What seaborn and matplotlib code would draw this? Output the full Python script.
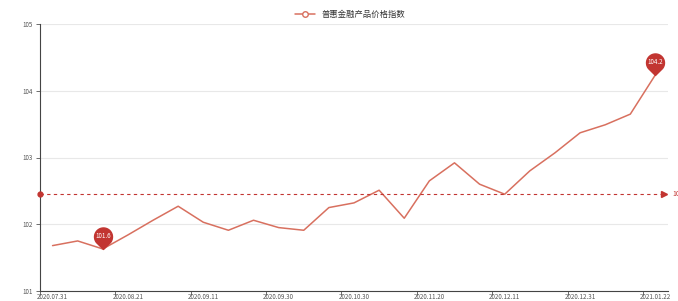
import numpy as np
import pandas as pd
import matplotlib
matplotlib.use("Agg")
import matplotlib.pyplot as plt
import seaborn as sns
from matplotlib.path import Path
from matplotlib.lines import Line2D

# ---- data ----
dates = ["2020.07.31", "2020.08.07", "2020.08.14", "2020.08.21", "2020.08.28",
         "2020.09.04", "2020.09.11", "2020.09.18", "2020.09.25", "2020.09.30",
         "2020.10.16", "2020.10.23", "2020.10.30", "2020.11.06", "2020.11.13",
         "2020.11.20", "2020.11.27", "2020.12.04", "2020.12.11", "2020.12.18",
         "2020.12.25", "2020.12.31", "2021.01.08", "2021.01.15", "2021.01.22"]
values = [101.68, 101.75, 101.63, 101.84, 102.06, 102.27, 102.03, 101.91, 102.06, 101.95,
          101.91, 102.25, 102.32, 102.51, 102.09, 102.65, 102.92, 102.60, 102.45, 102.80,
          103.07, 103.37, 103.49, 103.65, 104.24]
series_name = "普惠金融产品价格指数"
y_ticks = [101, 102, 103, 104, 105]

df = pd.DataFrame({"date": dates, "value": values})

sns.set_theme(style="white")
plt.rcParams['font.family'] = ['Noto Sans CJK SC', 'DejaVu Sans']

RED = "#c23531"
LINE = "#d8705f"

fig = plt.figure(figsize=(6.78, 3.01), dpi=100)
ax = fig.add_axes([40/678, 10/301, 628/678, 267/301])

sns.lineplot(data=df, x="date", y="value", ax=ax, color=LINE, linewidth=1.1,
             sort=False, legend=False)

ax.set_xlim(-0.5, len(dates) - 0.5)
ax.set_ylim(y_ticks[0], y_ticks[-1])
ax.set_xlabel("")
ax.set_ylabel("")

# y axis
ax.set_yticks(y_ticks)
ax.set_yticklabels([str(t) for t in y_ticks])
ax.tick_params(axis="y", length=3, width=0.6, color="#555555", labelsize=4.5,
               labelcolor="#555555", pad=2, left=True)
ax.yaxis.grid(True, color="#e8e8e8", linewidth=0.8)
ax.set_axisbelow(True)

# x axis: labels every 3 categories, ticks on boundaries
lab_idx = list(range(0, len(dates), 3))
ax.set_xticks(lab_idx)
ax.set_xticklabels([dates[i] for i in lab_idx])
ax.set_xticks([i - 0.5 for i in lab_idx], minor=True)
ax.tick_params(axis="x", which="major", length=0, labelsize=4.5,
               labelcolor="#555555", pad=1.5)
ax.tick_params(axis="x", which="minor", length=3, width=0.6, color="#555555",
               bottom=True)
ax.xaxis.grid(False)

for s in ["top", "right"]:
    ax.spines[s].set_visible(False)
for s in ["left", "bottom"]:
    ax.spines[s].set_color("#444444")
    ax.spines[s].set_linewidth(0.8)

# average mark line
avg = float(np.mean(values))
ax.plot([-0.5, len(dates) - 0.65], [avg, avg], ls=(0, (3, 3)), color=RED,
        lw=0.8, clip_on=False, zorder=3)
ax.plot([-0.5], [avg], marker="o", ms=3.5, color=RED, clip_on=False, zorder=4)
ax.plot([len(dates) - 0.65], [avg], marker=">", ms=4, color=RED, clip_on=False,
        zorder=4)
ax.annotate(f"{avg:.2f}", xy=(len(dates) - 0.5, avg), xytext=(3, 0),
            textcoords="offset points", ha="left", va="center", fontsize=5,
            color=RED, annotation_clip=False)

# pin markers for min/max
cx, cy, r = 0.0, 1.4, 1.0
ang = np.linspace(-0.22 * np.pi, 1.22 * np.pi, 60)
circ = np.column_stack([cx + r * np.cos(ang), cy + r * np.sin(ang)])
verts = np.vstack([[0, 0], circ, [0, 0]])
codes = [Path.MOVETO] + [Path.LINETO] * (len(verts) - 2) + [Path.CLOSEPOLY]
pin = Path(verts, codes)

i_min = int(np.argmin(values))
i_max = int(np.argmax(values))
for i in (i_min, i_max):
    ax.plot([i], [values[i]], marker=pin, ms=31, color=RED, mec=RED,
            clip_on=False, zorder=6, ls="none")
    ax.annotate(f"{values[i]:.1f}", xy=(i, values[i]), xytext=(0, 9.5),
                textcoords="offset points", ha="center", va="center",
                fontsize=4.5, color="white", zorder=7, annotation_clip=False)

# legend
handle = Line2D([], [], color=LINE, lw=1.1, marker="o", ms=4,
                markerfacecolor="white", markeredgecolor=LINE)
fig.legend(handles=[handle], labels=[series_name], loc="center",
           bbox_to_anchor=(350/678, 1 - 14/301), frameon=False, fontsize=6,
           handlelength=2.4, handletextpad=0.8, labelcolor="#333333")

fig.savefig("out.png", dpi=100)
